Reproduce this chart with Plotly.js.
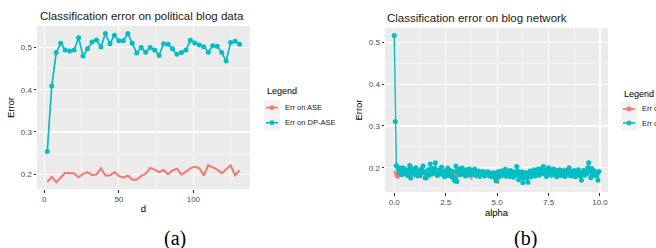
<!DOCTYPE html>
<html>
<head>
<meta charset="utf-8">
<script src="https://cdn.plot.ly/plotly-3.0.1.min.js"></script>
<style>html,body{margin:0;padding:0;background:#fff;}#chart{width:656px;height:248px;}</style>
</head>
<body>
<div id="chart"></div>
<script>
// ---- Panel (a): political blog data ----
const dValues = [2,5,8,11,14,17,20,23,26,29,32,35,38,41,44,47,50,53,56,59,62,65,68,71,74,77,80,83,86,89,92,95,98,101,104,107,110,113,116,119,122,125,128,131];
const errASE_a = [0.182,0.194,0.181,0.192,0.203,0.203,0.202,0.193,0.201,0.205,0.198,0.199,0.214,0.197,0.197,0.205,0.196,0.192,0.197,0.187,0.187,0.196,0.201,0.215,0.211,0.205,0.210,0.200,0.209,0.213,0.199,0.206,0.214,0.218,0.214,0.197,0.221,0.216,0.211,0.202,0.211,0.221,0.197,0.209];
const errDP_a = [0.254,0.409,0.488,0.510,0.494,0.492,0.494,0.523,0.480,0.497,0.513,0.518,0.501,0.533,0.509,0.529,0.516,0.516,0.533,0.510,0.487,0.500,0.489,0.500,0.494,0.481,0.509,0.508,0.497,0.484,0.488,0.494,0.517,0.511,0.506,0.502,0.489,0.504,0.503,0.488,0.468,0.512,0.515,0.508];

// ---- Panel (b): blog network ----
const alphaValues = [
0,0.05,0.1,0.15,0.2,0.25,0.3,0.35,0.4,0.45,
0.5,0.55,0.6,0.65,0.7,0.75,0.8,0.85,0.9,0.95,
1,1.05,1.1,1.15,1.2,1.25,1.3,1.35,1.4,1.45,
1.5,1.55,1.6,1.65,1.7,1.75,1.8,1.85,1.9,1.95,
2,2.05,2.1,2.15,2.2,2.25,2.3,2.35,2.4,2.45,
2.5,2.55,2.6,2.65,2.7,2.75,2.8,2.85,2.9,2.95,
3,3.05,3.1,3.15,3.2,3.25,3.3,3.35,3.4,3.45,
3.5,3.55,3.6,3.65,3.7,3.75,3.8,3.85,3.9,3.95,
4,4.05,4.1,4.15,4.2,4.25,4.3,4.35,4.4,4.45,
4.5,4.55,4.6,4.65,4.7,4.75,4.8,4.85,4.9,4.95,
5,5.05,5.1,5.15,5.2,5.25,5.3,5.35,5.4,5.45,
5.5,5.55,5.6,5.65,5.7,5.75,5.8,5.85,5.9,5.95,
6,6.05,6.1,6.15,6.2,6.25,6.3,6.35,6.4,6.45,
6.5,6.55,6.6,6.65,6.7,6.75,6.8,6.85,6.9,6.95,
7,7.05,7.1,7.15,7.2,7.25,7.3,7.35,7.4,7.45,
7.5,7.55,7.6,7.65,7.7,7.75,7.8,7.85,7.9,7.95,
8,8.05,8.1,8.15,8.2,8.25,8.3,8.35,8.4,8.45,
8.5,8.55,8.6,8.65,8.7,8.75,8.8,8.85,8.9,8.95,
9,9.05,9.1,9.15,9.2,9.25,9.3,9.35,9.4,9.45,
9.5,9.55,9.6,9.65,9.7,9.75,9.8,9.85,9.9,9.95];
const errASE_b = [
0.193,0.186,0.176,0.19,0.174,0.195,0.183,0.197,0.181,0.192,
0.186,0.199,0.178,0.19,0.185,0.196,0.18,0.203,0.184,0.191,
0.177,0.195,0.188,0.18,0.193,0.186,0.175,0.19,0.198,0.182,
0.189,0.179,0.194,0.186,0.2,0.183,0.191,0.187,0.181,0.196,
0.185,0.19,0.178,0.197,0.184,0.192,0.18,0.188,0.195,0.182,
0.19,0.176,0.193,0.186,0.181,0.198,0.184,0.19,0.177,0.185,
0.193,0.18,0.196,0.187,0.183,0.2,0.185,0.191,0.179,0.194,
0.186,0.182,0.199,0.184,0.19,0.172,0.193,0.187,0.18,0.202,
0.186,0.19,0.181,0.195,0.184,0.189,0.178,0.193,0.185,0.181,
0.19,0.183,0.188,0.179,0.186,0.192,0.18,0.187,0.176,0.189,
0.182,0.162,0.19,0.178,0.186,0.193,0.181,0.188,0.174,0.191,
0.184,0.196,0.18,0.189,0.185,0.177,0.192,0.183,0.19,0.186,
0.179,0.194,0.182,0.188,0.175,0.19,0.184,0.193,0.18,0.187,
0.183,0.196,0.185,0.19,0.178,0.193,0.186,0.199,0.183,0.19,
0.181,0.197,0.187,0.192,0.184,0.2,0.188,0.182,0.195,0.186,
0.191,0.18,0.197,0.185,0.19,0.183,0.194,0.179,0.188,0.198,
0.184,0.19,0.177,0.193,0.182,0.2,0.186,0.191,0.179,0.188,
0.184,0.196,0.181,0.19,0.185,0.178,0.192,0.186,0.181,0.197,
0.184,0.19,0.18,0.193,0.186,0.179,0.195,0.183,0.202,0.188,
0.205,0.184,0.191,0.178,0.196,0.185,0.19,0.18,0.187,0.183];
const errDP_b = [
0.517,0.311,0.205,0.203,0.195,0.188,0.198,0.183,0.2,0.19,
0.197,0.185,0.192,0.181,0.195,0.205,0.175,0.189,0.197,0.184,
0.193,0.2,0.186,0.18,0.191,0.183,0.196,0.188,0.204,0.19,
0.176,0.175,0.186,0.195,0.182,0.209,0.193,0.185,0.198,0.19,
0.212,0.188,0.181,0.194,0.186,0.197,0.201,0.183,0.19,0.178,
0.192,0.186,0.199,0.181,0.193,0.185,0.178,0.191,0.173,0.168,
0.204,0.167,0.189,0.196,0.183,0.19,0.199,0.186,0.194,0.18,
0.195,0.188,0.182,0.197,0.19,0.184,0.193,0.187,0.196,0.181,
0.19,0.185,0.192,0.179,0.188,0.183,0.191,0.186,0.18,0.189,
0.184,0.19,0.182,0.187,0.179,0.186,0.18,0.188,0.176,0.168,
0.183,0.19,0.178,0.187,0.192,0.181,0.19,0.185,0.196,0.18,
0.191,0.186,0.179,0.193,0.184,0.19,0.177,0.188,0.182,0.203,
0.192,0.171,0.186,0.178,0.19,0.164,0.183,0.175,0.188,0.181,
0.165,0.186,0.192,0.178,0.189,0.183,0.195,0.18,0.19,0.186,
0.197,0.182,0.193,0.188,0.199,0.203,0.185,0.194,0.179,0.19,
0.2,0.187,0.195,0.182,0.191,0.197,0.184,0.19,0.178,0.193,
0.186,0.195,0.181,0.189,0.184,0.192,0.179,0.187,0.194,0.183,
0.2,0.188,0.18,0.191,0.185,0.193,0.178,0.189,0.183,0.195,
0.186,0.18,0.17,0.188,0.193,0.182,0.19,0.185,0.2,0.212,
0.192,0.176,0.198,0.186,0.193,0.181,0.189,0.184,0.17,0.191];

const seriesNames = ['Err on ASE', 'Err on DP-ASE'];
const RED = '#F8766D', CYAN = '#00BFC4';

const W = 656, H = 248;
const px = x => x / W;
const py = y => 1 - y / H;

const traces = [
  {x: dValues, y: errASE_a, mode: 'lines', line: {color: RED, width: 2}, xaxis: 'x', yaxis: 'y', name: seriesNames[0], showlegend: false},
  {x: dValues, y: errDP_a, mode: 'lines+markers', line: {color: CYAN, width: 1.7}, marker: {color: CYAN, size: 5}, xaxis: 'x', yaxis: 'y', name: seriesNames[1], showlegend: false},
  {x: alphaValues, y: errDP_b, mode: 'lines', line: {color: CYAN, width: 1.4}, xaxis: 'x2', yaxis: 'y2', name: seriesNames[1], showlegend: false},
  {x: alphaValues, y: errASE_b, mode: 'lines', line: {color: RED, width: 2}, xaxis: 'x2', yaxis: 'y2', name: seriesNames[0], showlegend: false},
  {x: alphaValues, y: errDP_b, mode: 'markers', marker: {color: CYAN, size: 5}, xaxis: 'x2', yaxis: 'y2', name: seriesNames[1], showlegend: false}
];

const FONT = 'Liberation Sans, Arial, sans-serif';
const tickFont = {family: FONT, size: 8, color: '#4D4D4D'};
const titleFont = {family: FONT, size: 9.5, color: '#000'};
function axis(extra) {
  return Object.assign({
    showgrid: true, gridcolor: '#FFFFFF', gridwidth: 1.1,
    zeroline: false, showline: false,
    ticks: 'outside', ticklen: 2.5, tickwidth: 1, tickcolor: '#333333',
    tickfont: tickFont, fixedrange: true
  }, extra);
}

const layout = {
  width: W, height: H,
  margin: {l: 0, r: 0, t: 0, b: 0},
  paper_bgcolor: '#FFFFFF', plot_bgcolor: '#EBEBEB',
  showlegend: false,
  xaxis: axis({domain: [px(37), px(250)], range: [-4.9, 138], tickmode: 'linear', tick0: 0, dtick: 50,
    minor: {dtick: 25, showgrid: true, gridcolor: '#FFFFFF', gridwidth: 0.5, ticks: ''},
    title: {text: 'd', font: titleFont, standoff: 2}, anchor: 'y'}),
  yaxis: axis({domain: [py(189), py(26)], range: [0.165, 0.551], tickmode: 'linear', tick0: 0.2, dtick: 0.1, tickformat: '.1f',
    minor: {dtick: 0.05, showgrid: true, gridcolor: '#FFFFFF', gridwidth: 0.5, ticks: ''},
    title: {text: 'Error', font: titleFont, standoff: 4}, anchor: 'x'}),
  xaxis2: axis({domain: [px(385), px(608)], range: [-0.45, 10.39], tickmode: 'linear', tick0: 0, dtick: 2.5, tickformat: '.1f',
    minor: {dtick: 1.25, showgrid: true, gridcolor: '#FFFFFF', gridwidth: 0.5, ticks: ''},
    title: {text: 'alpha', font: titleFont, standoff: 2}, anchor: 'y2'}),
  yaxis2: axis({domain: [py(192), py(28)], range: [0.1417, 0.535], tickmode: 'linear', tick0: 0.2, dtick: 0.1, tickformat: '.1f',
    minor: {dtick: 0.05, showgrid: true, gridcolor: '#FFFFFF', gridwidth: 0.5, ticks: ''},
    title: {text: 'Error', font: titleFont, standoff: 4}, anchor: 'x2'}),
  annotations: [],
  shapes: []
};

// Titles
layout.annotations.push({text: 'Classification error on political blog data', x: px(38), y: py(15.5), xref: 'paper', yref: 'paper',
  xanchor: 'left', yanchor: 'middle', showarrow: false, font: {family: FONT, size: 11.5, color: '#1A1A1A'}});
layout.annotations.push({text: 'Classification error on blog network', x: px(385), y: py(18), xref: 'paper', yref: 'paper',
  xanchor: 'left', yanchor: 'middle', showarrow: false, font: {family: FONT, size: 11.5, color: '#1A1A1A'}});

// Manual legends (ggplot style)
function addLegend(x0, titleY, itemYs) {
  layout.annotations.push({text: 'Legend', x: px(x0), y: py(titleY), xref: 'paper', yref: 'paper',
    xanchor: 'left', yanchor: 'middle', showarrow: false, font: {family: FONT, size: 9, color: '#000'}});
  const colors = [RED, CYAN];
  itemYs.forEach((iy, k) => {
    layout.shapes.push({type: 'rect', xref: 'paper', yref: 'paper', x0: px(x0 - 1), x1: px(x0 + 15), y0: py(iy + 7.5), y1: py(iy - 7.5),
      fillcolor: '#F2F2F2', line: {width: 0}, layer: 'below'});
    layout.shapes.push({type: 'line', xref: 'paper', yref: 'paper', x0: px(x0 + 1), x1: px(x0 + 13), y0: py(iy), y1: py(iy),
      line: {color: colors[k], width: 1.6}});
    layout.shapes.push({type: 'circle', xref: 'paper', yref: 'paper', x0: px(x0 + 7 - 2.4), x1: px(x0 + 7 + 2.4), y0: py(iy + 2.4), y1: py(iy - 2.4),
      fillcolor: colors[k], line: {width: 0}});
    layout.annotations.push({text: seriesNames[k], x: px(x0 + 18), y: py(iy), xref: 'paper', yref: 'paper',
      xanchor: 'left', yanchor: 'middle', showarrow: false, font: {family: FONT, size: 7.5, color: '#1A1A1A'}});
  });
}
addLegend(265, 91, [107.7, 122.7]);
addLegend(622, 94.3, [109, 123]);

// Sub-captions
layout.annotations.push({text: '(a)', x: px(175), y: py(238), xref: 'paper', yref: 'paper', xanchor: 'center', yanchor: 'middle',
  showarrow: false, font: {family: 'Liberation Serif, Times New Roman, serif', size: 20, color: '#000'}});
layout.annotations.push({text: '(b)', x: px(525), y: py(238), xref: 'paper', yref: 'paper', xanchor: 'center', yanchor: 'middle',
  showarrow: false, font: {family: 'Liberation Serif, Times New Roman, serif', size: 20, color: '#000'}});

Plotly.newPlot('chart', traces, layout, {staticPlot: true, displayModeBar: false});
</script>
</body>
</html>
